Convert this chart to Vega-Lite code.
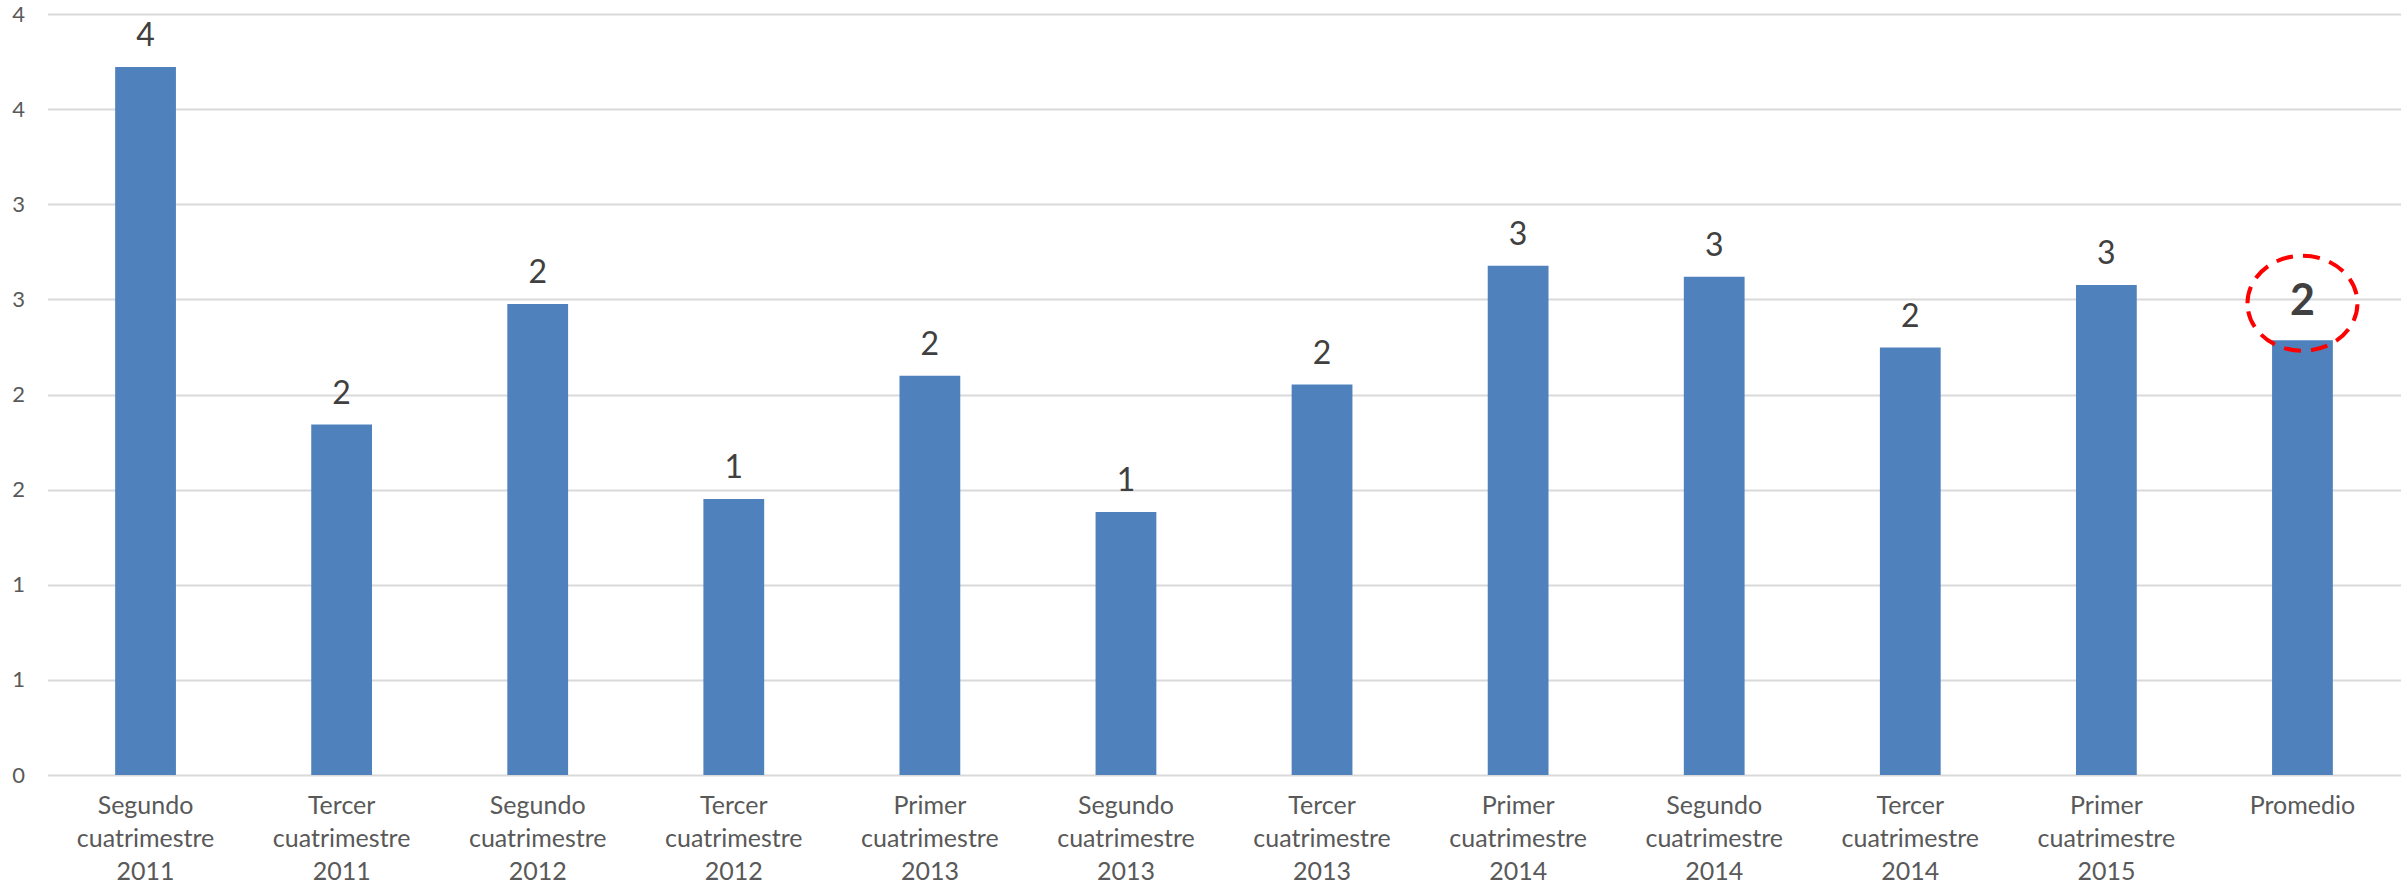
{
  "$schema": "https://vega.github.io/schema/vega-lite/v6.json",
  "autosize": {"type": "none"},
  "width": 2353,
  "height": 761,
  "padding": {"left": 47.5, "top": 14, "right": 6.5, "bottom": 113},
  "background": "white",
  "config": {"view": {"stroke": null}, "font": "Lato"},
  "data": {
    "values": [
      {"periodo": "Segundo cuatrimestre 2011", "valor": 3.722},
      {"periodo": "Tercer cuatrimestre 2011", "valor": 1.842},
      {"periodo": "Segundo cuatrimestre 2012", "valor": 2.476},
      {"periodo": "Tercer cuatrimestre 2012", "valor": 1.451},
      {"periodo": "Primer cuatrimestre 2013", "valor": 2.099},
      {"periodo": "Segundo cuatrimestre 2013", "valor": 1.382},
      {"periodo": "Tercer cuatrimestre 2013", "valor": 2.052},
      {"periodo": "Primer cuatrimestre 2014", "valor": 2.677},
      {"periodo": "Segundo cuatrimestre 2014", "valor": 2.619},
      {"periodo": "Tercer cuatrimestre 2014", "valor": 2.247},
      {"periodo": "Primer cuatrimestre 2015", "valor": 2.575},
      {"periodo": "Promedio", "valor": 2.285}
    ]
  },
  "encoding": {
    "x": {
      "field": "periodo",
      "type": "nominal",
      "sort": null,
      "scale": {"paddingInner": 0.69, "paddingOuter": 0.345},
      "axis": {
        "title": null,
        "labelAngle": 0,
        "domain": false,
        "ticks": false,
        "labelExpr": "split(datum.value, ' ')",
        "labelLineHeight": 33,
        "labelFontSize": 25,
        "labelFont": "Lato",
        "labelColor": "#595959",
        "labelPadding": 18,
        "labelLimit": 400,
        "labelOverlap": false
      }
    },
    "y": {
      "field": "valor",
      "type": "quantitative",
      "scale": {"domain": [0, 4], "nice": false, "zero": true},
      "axis": {
        "title": null,
        "domain": false,
        "ticks": false,
        "grid": true,
        "gridColor": "#d9d9d9",
        "gridWidth": 2,
        "values": [0, 0.5, 1, 1.5, 2, 2.5, 3, 3.5, 4],
        "format": ".0f",
        "labelPadding": 23,
        "labelFont": "Lato",
        "labelFontSize": 22,
        "labelColor": "#595959"
      }
    }
  },
  "layer": [
    {"mark": {"type": "bar", "color": "#4f81bd"}},
    {
      "transform": [{"filter": "datum.periodo !== 'Promedio'"}],
      "mark": {"type": "text", "baseline": "alphabetic", "yOffset": -21, "fontSize": 32, "font": "Lato", "color": "#404040"},
      "encoding": {"text": {"field": "valor", "type": "quantitative", "format": ".0f"}}
    },
    {
      "transform": [{"filter": "datum.periodo === 'Promedio'"}],
      "mark": {"type": "text", "baseline": "alphabetic", "yOffset": -25, "fontSize": 43, "fontWeight": "bold", "font": "Lato", "color": "#404040"},
      "encoding": {"text": {"field": "valor", "type": "quantitative", "format": ".0f"}}
    },
    {
      "transform": [{"filter": "datum.periodo === 'Promedio'"}],
      "mark": {
        "type": "point",
        "shape": "M-1,0A1,0.864,0,1,1,1,0A1,0.864,0,1,1,-1,0Z",
        "size": 12100,
        "filled": false,
        "stroke": "#ff0000",
        "strokeWidth": 4,
        "strokeDash": [17, 10],
        "opacity": 1,
        "yOffset": -37
      }
    }
  ]
}
